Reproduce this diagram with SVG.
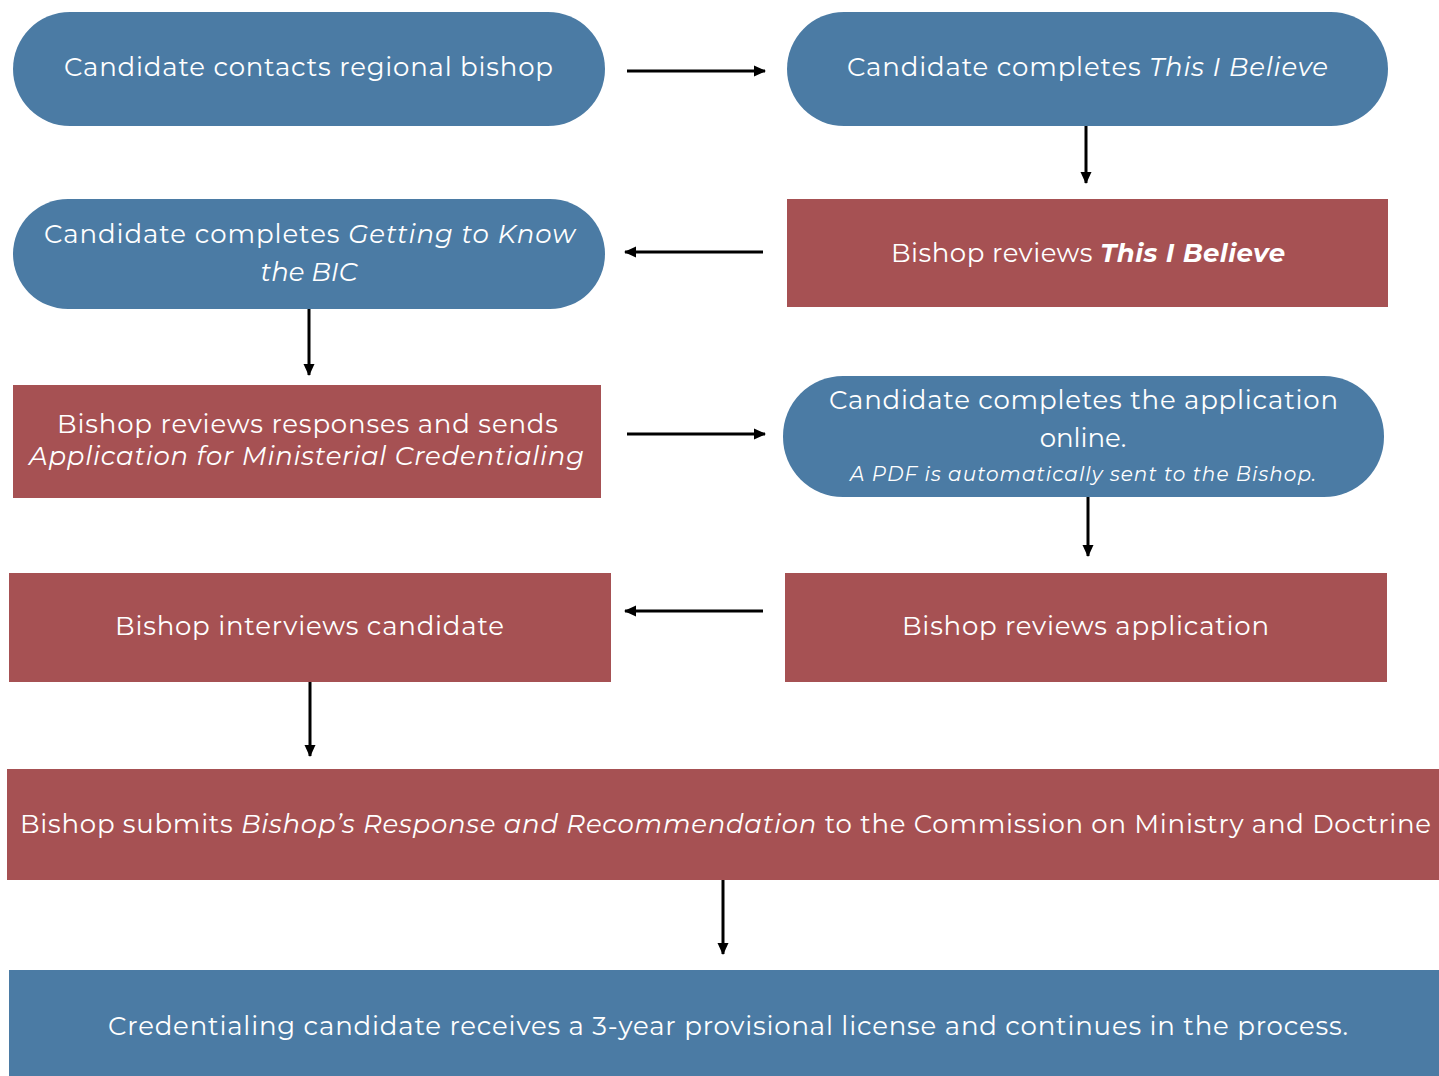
<svg xmlns="http://www.w3.org/2000/svg" width="1439" height="1076" viewBox="0 0 1439 1076">
<style>
.blue{fill:#4b7ba4}
.red{fill:#a65153}
text{font-family:"Montserrat","Open Sans","DejaVu Sans",sans-serif;fill:#ffffff;font-size:26px}
.i{font-style:italic}
.bi{font-style:italic;font-weight:bold}
.sm{font-size:20px}
.c{stroke:#000;stroke-width:3;fill:none;marker-end:url(#ah)}
</style>
<defs>
<marker id="ah" markerWidth="12" markerHeight="12" viewBox="0 0 12 12" refX="11" refY="6" orient="auto" markerUnits="userSpaceOnUse">
<path d="M0,0.5 L12,6 L0,11.5 Z" fill="#000"/>
</marker>
</defs>
<rect width="1439" height="1076" fill="#ffffff"/>
<g id="connectors">
<line class="c" x1="627" y1="71" x2="765" y2="71"/>
<line class="c" x1="1086" y1="126" x2="1086" y2="183"/>
<line class="c" x1="763" y1="252" x2="625" y2="252"/>
<line class="c" x1="309" y1="309" x2="309" y2="375"/>
<line class="c" x1="627" y1="434" x2="765" y2="434"/>
<line class="c" x1="1088" y1="497" x2="1088" y2="556"/>
<line class="c" x1="763" y1="611" x2="625" y2="611"/>
<line class="c" x1="310" y1="682" x2="310" y2="756"/>
<line class="c" x1="723" y1="880" x2="723" y2="954"/>
</g>
<g id="n1">
<rect class="blue" x="13" y="12" width="592" height="114" rx="57"/>
<text x="64" y="76" textLength="489">Candidate contacts regional bishop</text>
</g>
<g id="n2">
<rect class="blue" x="787" y="12" width="601" height="114" rx="57"/>
<text x="847" y="76" textLength="481">Candidate completes <tspan class="i">This I Believe</tspan></text>
</g>
<g id="n3">
<rect class="red" x="787" y="199" width="601" height="108"/>
<text x="891" y="262" textLength="394">Bishop reviews <tspan class="bi">This I Believe</tspan></text>
</g>
<g id="n4">
<rect class="blue" x="13" y="199" width="592" height="110" rx="55"/>
<text x="44" y="243" textLength="531">Candidate completes <tspan class="i">Getting to Know</tspan></text>
<text x="309" y="281" text-anchor="middle" class="i">the BIC</text>
</g>
<g id="n5">
<rect class="red" x="13" y="385" width="588" height="113"/>
<text x="57" y="433" textLength="501">Bishop reviews responses and sends</text>
<text x="29" y="465" textLength="555" class="i">Application for Ministerial Credentialing</text>
</g>
<g id="n6">
<rect class="blue" x="783" y="376" width="601" height="121" rx="60"/>
<text x="829" y="409" textLength="509">Candidate completes the application</text>
<text x="1083" y="447" text-anchor="middle">online.</text>
<text x="850" y="481" textLength="466" class="i sm">A PDF is automatically sent to the Bishop.</text>
</g>
<g id="n7">
<rect class="red" x="785" y="573" width="602" height="109"/>
<text x="902" y="635" textLength="367">Bishop reviews application</text>
</g>
<g id="n8">
<rect class="red" x="9" y="573" width="602" height="109"/>
<text x="115" y="635" textLength="389">Bishop interviews candidate</text>
</g>
<g id="n9">
<rect class="red" x="7" y="769" width="1432" height="111"/>
<text x="20" y="833" textLength="1411">Bishop submits <tspan class="i">Bishop’s Response and Recommendation</tspan> to the Commission on Ministry and Doctrine</text>
</g>
<g id="n10">
<rect class="blue" x="9" y="970" width="1430" height="106"/>
<text x="108" y="1035" textLength="1240">Credentialing candidate receives a 3-year provisional license and continues in the process.</text>
</g>
</svg>
